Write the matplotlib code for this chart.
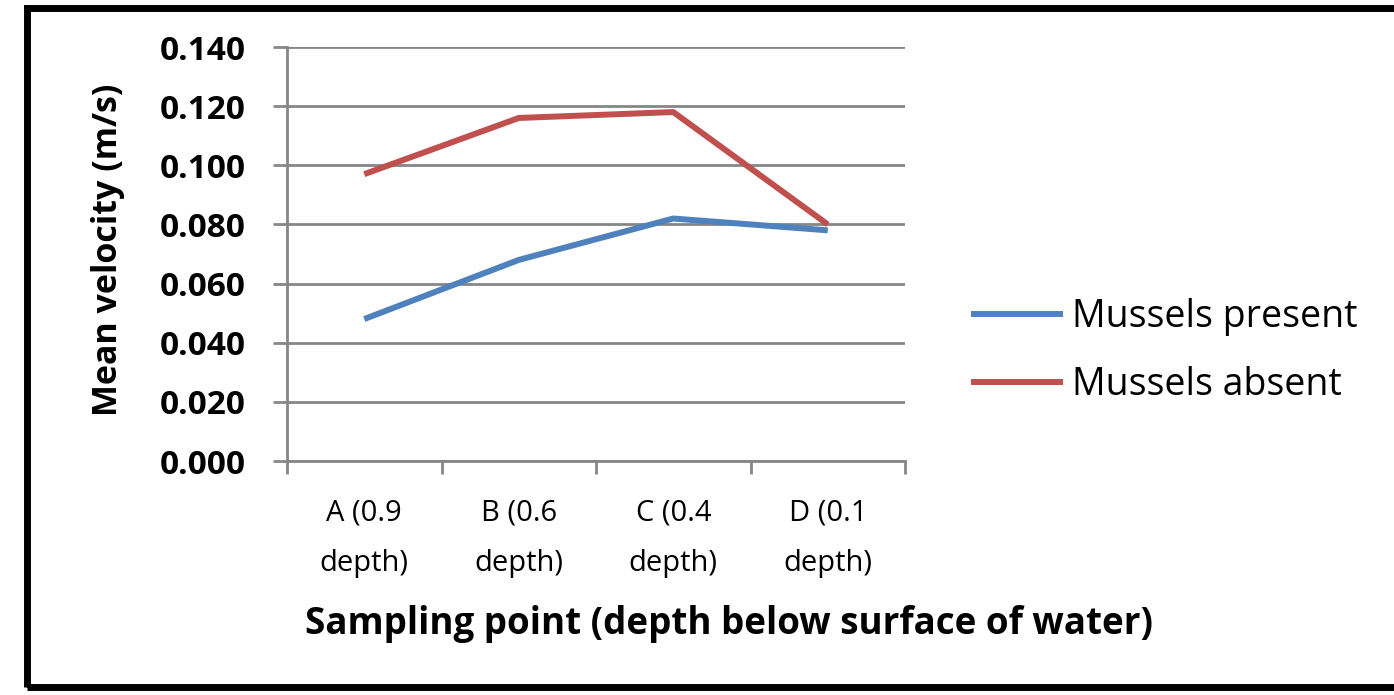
import matplotlib.pyplot as plt
from matplotlib.patches import Rectangle

plt.rcParams['font.family'] = ['Open Sans', 'DejaVu Sans']

categories = ["A (0.9\ndepth)", "B (0.6\ndepth)", "C (0.4\ndepth)", "D (0.1\ndepth)"]
mussels_present = [0.048, 0.068, 0.082, 0.078]
mussels_absent = [0.097, 0.116, 0.118, 0.080]
yticks = [0.0, 0.02, 0.04, 0.06, 0.08, 0.10, 0.12, 0.14]

grey = "#868686"

fig = plt.figure(figsize=(13.94, 6.95), dpi=100)
ax = fig.add_axes([287/1394, 1 - 461/695, 618/1394, 414/695])

x = [i + 0.5 for i in range(len(categories))]
ax.plot(x, mussels_present, color="#4F81BD", lw=4.3, label="Mussels present", solid_capstyle="butt")
ax.plot(x, mussels_absent, color="#C0504D", lw=4.3, label="Mussels absent", solid_capstyle="butt")

ax.set_xlim(0, len(categories))
ax.set_ylim(0, 0.14)
ax.set_yticks(yticks)
ax.set_yticklabels(["%.3f" % v for v in yticks], fontsize=24, fontweight="bold")
ax.set_xticks(x)
ax.set_xticklabels(categories, fontsize=21, linespacing=2.0)
ax.set_xticks(range(len(categories) + 1), minor=True)
ax.tick_params(axis="x", which="major", length=0, pad=27)
ax.tick_params(axis="x", which="minor", length=9, width=2, color=grey)
ax.tick_params(axis="y", length=10, width=2, color=grey, pad=20)

ax.grid(axis="y", color=grey, lw=2)
ax.set_axisbelow(True)
for s in ["top", "right"]:
    ax.spines[s].set_visible(False)
for s in ["left", "bottom"]:
    ax.spines[s].set_color(grey)
    ax.spines[s].set_linewidth(2)

fig.text(108/1394, 1 - 250/695, "Mean velocity (m/s)", rotation=90, ha="center", va="center",
         fontsize=24.5, fontweight="bold")
fig.text(729/1394, 1 - 624/695, "Sampling point (depth below surface of water)", ha="center", va="center",
         fontsize=26.5, fontweight="bold")

fig.legend(loc="center left", bbox_to_anchor=(937/1394, 1 - 351/695), frameon=False,
           fontsize=27, handlelength=2.45, handletextpad=0.25, labelspacing=0.8)

fig.patches.append(Rectangle((27/1394, 1 - 687/695), 1.2, 679/695, transform=fig.transFigure,
                             fill=False, ec="black", lw=5, clip_on=False))

fig.savefig("out.png", dpi=100)
